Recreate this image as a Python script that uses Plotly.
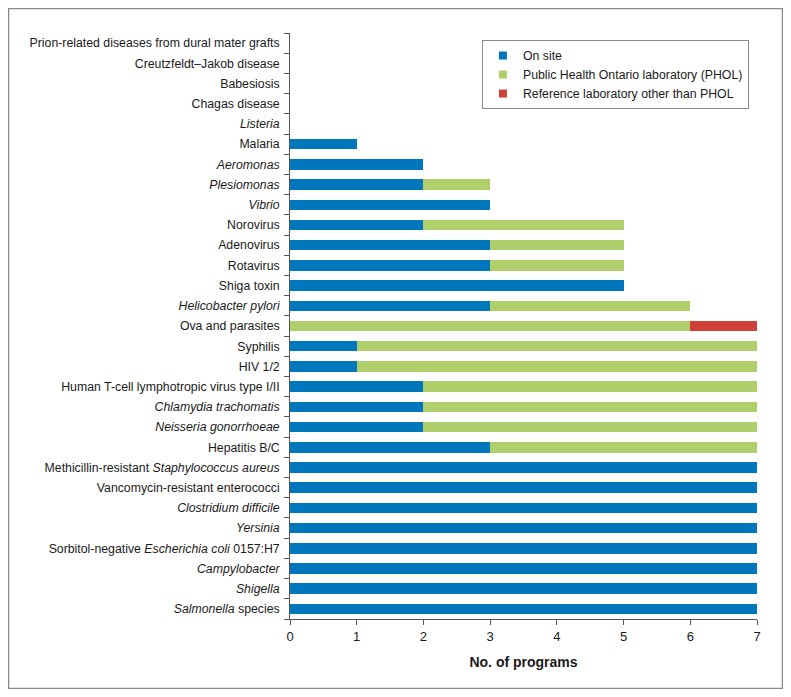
import plotly.graph_objects as go

# categories listed bottom to top
categories = [
    "<i>Salmonella</i> species",
    "<i>Shigella</i>",
    "<i>Campylobacter</i>",
    "Sorbitol-negative <i>Escherichia coli</i> 0157:H7",
    "<i>Yersinia</i>",
    "<i>Clostridium difficile</i>",
    "Vancomycin-resistant enterococci",
    "Methicillin-resistant <i>Staphylococcus aureus</i>",
    "Hepatitis B/C",
    "<i>Neisseria gonorrhoeae</i>",
    "<i>Chlamydia trachomatis</i>",
    "Human T-cell lymphotropic virus type I/II",
    "HIV 1/2",
    "Syphilis",
    "Ova and parasites",
    "<i>Helicobacter pylori</i>",
    "Shiga toxin",
    "Rotavirus",
    "Adenovirus",
    "Norovirus",
    "<i>Vibrio</i>",
    "<i>Plesiomonas</i>",
    "<i>Aeromonas</i>",
    "Malaria",
    "<i>Listeria</i>",
    "Chagas disease",
    "Babesiosis",
    "Creutzfeldt–Jakob disease",
    "Prion-related diseases from dural mater grafts",
]

on_site = [7, 7, 7, 7, 7, 7, 7, 7, 3, 2, 2, 2, 1, 1, 0, 3, 5, 3, 3, 2, 3, 2, 2, 1, 0, 0, 0, 0, 0]
phol = [0, 0, 0, 0, 0, 0, 0, 0, 4, 5, 5, 5, 6, 6, 6, 3, 0, 2, 2, 3, 0, 1, 0, 0, 0, 0, 0, 0, 0]
other_ref = [0, 0, 0, 0, 0, 0, 0, 0, 0, 0, 0, 0, 0, 0, 1, 0, 0, 0, 0, 0, 0, 0, 0, 0, 0, 0, 0, 0, 0]

series_names = [
    "On site",
    "Public Health Ontario laboratory (PHOL)",
    "Reference laboratory other than PHOL",
]
colors = ["#0077bd", "#aecf6a", "#cf4036"]

fig = go.Figure()

for name, vals, col in zip(series_names, [on_site, phol, other_ref], colors):
    fig.add_trace(
        go.Bar(
            y=categories,
            x=vals,
            orientation="h",
            marker=dict(color=col, line=dict(width=0)),
            showlegend=False,
            hoverinfo="x+y",
        )
    )
    # legend entry with a small square swatch
    fig.add_trace(
        go.Scatter(
            x=[None],
            y=[None],
            mode="markers",
            name=name,
            marker=dict(symbol="square", size=8, color=col),
        )
    )

# outer frame around the whole figure
fig.add_shape(
    type="rect",
    xref="paper", yref="paper",
    x0=-0.6028, x1=1.0546, y0=-0.1186, y1=1.0418,
    line=dict(color="#8a8a8a", width=1.5),
    fillcolor="rgba(0,0,0,0)",
)

fig.update_layout(
    barmode="stack",
    bargap=0.48,
    width=775,
    height=681,
    margin=dict(l=282, r=26, t=25, b=70),
    paper_bgcolor="white",
    plot_bgcolor="white",
    font=dict(family="Liberation Sans, Arial, sans-serif", size=12.3, color="#1a1a1a"),
    legend=dict(
        x=0.411, y=0.988, xanchor="left", yanchor="top",
        bordercolor="#8a8a8a", borderwidth=1,
        font=dict(size=12.3, color="#1a1a1a"),
        itemwidth=30,
        traceorder="normal",
        tracegroupgap=0,
    ),
    xaxis=dict(
        range=[0, 7],
        dtick=1,
        tick0=0,
        showgrid=False,
        zeroline=False,
        showline=True,
        linecolor="#555555",
        linewidth=1,
        ticks="outside",
        ticklen=5,
        tickcolor="#555555",
        tickfont=dict(size=13, color="#1a1a1a"),
        title=dict(text="<b>No. of programs</b>", font=dict(size=14, color="#1a1a1a"), standoff=14),
    ),
    yaxis=dict(
        categoryorder="array",
        categoryarray=categories,
        range=[-0.5, len(categories) - 0.5],
        showgrid=False,
        showline=True,
        linecolor="#555555",
        linewidth=1,
        ticks="outside",
        tickson="boundaries",
        ticklen=5,
        tickcolor="#555555",
        tickfont=dict(color="#1a1a1a"),
        ticksuffix="\u00a0\u00a0",
    ),
)

fig.write_html("out.html")
